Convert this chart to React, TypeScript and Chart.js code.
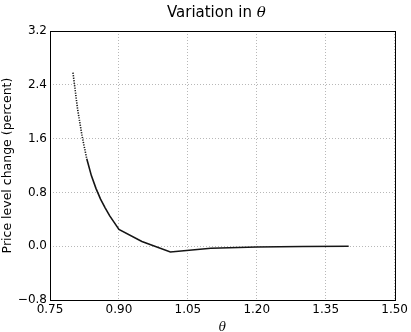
import React, { useEffect, useRef } from "react";
import { Chart, registerables } from "chart.js";
Chart.register(...registerables);

const thetaValues = [0.8, 0.81, 0.82, 0.83, 0.84, 0.85, 0.86, 0.87, 0.88, 0.89, 0.9, 0.95, 1.012, 1.1, 1.2, 1.3, 1.4];
const priceChange = [2.58, 2.04, 1.63, 1.3, 1.05, 0.86, 0.7, 0.57, 0.45, 0.35, 0.25, 0.07, -0.086, -0.03, -0.013, -0.005, 0.0];
const xTicks = [0.75, 0.9, 1.05, 1.2, 1.35, 1.5];
const yTicks = [-0.8, 0.0, 0.8, 1.6, 2.4, 3.2];
const titleText = "Variation in ";
const titleSymbol = "θ";
const yLabel = "Price level change (percent)";
const xLabel = "θ";

const frameAndTitle = {
  id: "frameAndTitle",
  afterDraw(chart: any) {
    const { ctx, chartArea } = chart;
    ctx.save();
    ctx.strokeStyle = "#000";
    ctx.lineWidth = 1;
    ctx.strokeRect(
      Math.round(chartArea.left) + 0.5,
      Math.round(chartArea.top) + 0.5,
      Math.round(chartArea.right - chartArea.left),
      Math.round(chartArea.bottom - chartArea.top)
    );
    ctx.fillStyle = "#000";
    ctx.textBaseline = "alphabetic";
    ctx.textAlign = "left";
    ctx.font = "15px 'DejaVu Sans'";
    const w1 = ctx.measureText(titleText).width;
    ctx.font = "italic 15px 'DejaVu Serif'";
    const w2 = ctx.measureText(titleSymbol).width;
    const cx = (chartArea.left + chartArea.right) / 2 - 6;
    const x0 = cx - (w1 + w2) / 2;
    ctx.font = "15px 'DejaVu Sans'";
    ctx.fillText(titleText, x0, 17);
    ctx.font = "italic 15px 'DejaVu Serif'";
    ctx.fillText(titleSymbol, x0 + w1, 17);
    ctx.restore();
  },
};

export default function App() {
  const ref = useRef<HTMLCanvasElement | null>(null);
  useEffect(() => {
    if (!ref.current) return;
    const points = thetaValues.map((x, i) => ({ x, y: priceChange[i] }));
    const grid = {
      color: "#b8b8b8",
      lineWidth: 1,
      drawTicks: false,
    };
    const border = { display: false, dash: [1, 2] };
    const chart = new Chart(ref.current, {
      type: "scatter",
      data: {
        datasets: [
          {
            data: points,
            showLine: true,
            borderColor: "#151515",
            borderWidth: 1.6,
            pointRadius: 0,
            tension: 0,
            segment: {
              borderDash: (c: any) => (c.p0.parsed.x < 0.825 ? [1.2, 1.3] : undefined),
            },
          },
        ],
      },
      plugins: [frameAndTitle],
      options: {
        responsive: false,
        animation: false,
        events: [],
        layout: { padding: { left: 0, right: 13, top: 31, bottom: 0 } },
        plugins: { legend: { display: false }, tooltip: { enabled: false }, title: { display: false } },
        scales: {
          x: {
            type: "linear",
            min: 0.75,
            max: 1.5,
            afterBuildTicks: (s: any) => {
              s.ticks = xTicks.map((v) => ({ value: v }));
            },
            afterFit: (s: any) => {
              s.height = 32;
            },
            grid,
            border,
            ticks: {
              color: "#000",
              font: { family: "'DejaVu Sans'", size: 12 },
              padding: 3,
              maxRotation: 0,
              autoSkip: false,
              callback: (v: any) => Number(v).toFixed(2),
            },
            title: {
              display: true,
              text: xLabel,
              color: "#000",
              font: { family: "'DejaVu Serif'", size: 12, style: "italic" },
              padding: { top: 0, bottom: -3 },
            },
          },
          y: {
            type: "linear",
            min: -0.8,
            max: 3.2,
            afterBuildTicks: (s: any) => {
              s.ticks = yTicks.map((v) => ({ value: v }));
            },
            afterFit: (s: any) => {
              s.width = 50;
            },
            grid,
            border,
            ticks: {
              color: "#000",
              font: { family: "'DejaVu Sans'", size: 12 },
              padding: 3,
              autoSkip: false,
              callback: (v: any) => Number(v).toFixed(1).replace("-", "\u2212"),
            },
            title: {
              display: true,
              text: yLabel,
              color: "#000",
              font: { family: "'DejaVu Sans'", size: 12.5 },
              padding: { top: 0, bottom: 0 },
            },
          },
        },
      },
    });
    return () => chart.destroy();
  }, []);
  return (
    <div style={{ position: "fixed", left: 0, top: 0, width: 411, height: 332, background: "#fff" }}>
      <canvas ref={ref} width={411} height={332} style={{ display: "block" }} />
    </div>
  );
}
